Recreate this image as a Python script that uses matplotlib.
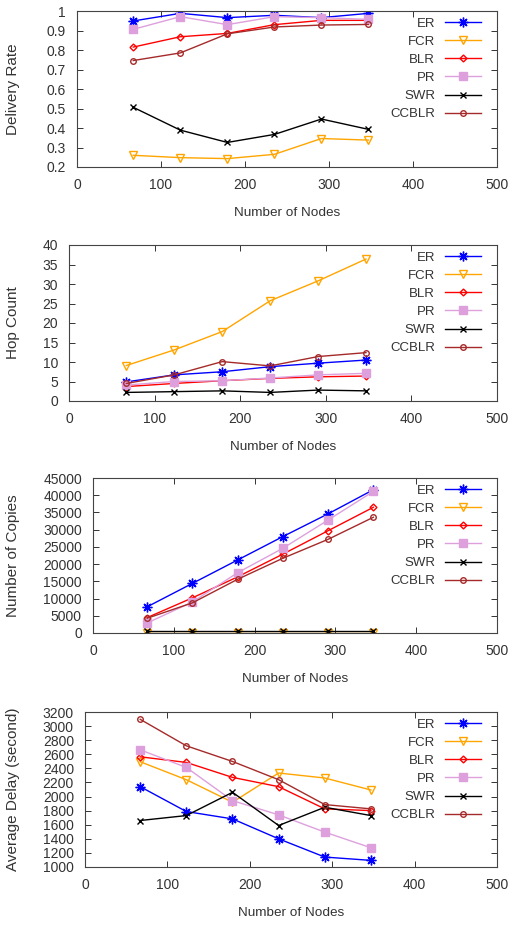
import matplotlib
matplotlib.use("Agg")
import matplotlib.pyplot as plt
from matplotlib.transforms import blended_transform_factory

plt.rcParams['font.family'] = ['Liberation Sans', 'DejaVu Sans']

# number of nodes on x axis
nodes = [67, 123, 179, 235, 291, 347]
names = ['ER', 'FCR', 'BLR', 'PR', 'SWR', 'CCBLR']

# delivery rate
dr_er = [0.949, 0.988, 0.966, 0.978, 0.966, 0.988]
dr_fcr = [0.260, 0.248, 0.243, 0.265, 0.346, 0.338]
dr_blr = [0.815, 0.868, 0.885, 0.930, 0.952, 0.952]
dr_pr = [0.906, 0.971, 0.930, 0.971, 0.966, 0.957]
dr_swr = [0.506, 0.389, 0.326, 0.367, 0.446, 0.393]
dr_ccblr = [0.746, 0.785, 0.883, 0.918, 0.928, 0.931]

# hop count
hc_er = [4.9, 6.7, 7.5, 8.8, 9.7, 10.5]
hc_fcr = [9.1, 13.1, 17.8, 25.7, 30.8, 36.4]
hc_blr = [3.7, 4.5, 5.2, 5.8, 6.2, 6.4]
hc_pr = [4.1, 5.0, 5.2, 5.9, 6.7, 7.1]
hc_swr = [2.2, 2.4, 2.6, 2.2, 2.8, 2.6]
hc_ccblr = [4.5, 6.7, 10.1, 9.0, 11.4, 12.4]

# number of copies
nc_er = [7600, 14400, 21200, 28000, 34600, 41600]
nc_fcr = [100, 100, 100, 100, 100, 100]
nc_blr = [4470, 10200, 16300, 22900, 29700, 36500]
nc_pr = [2900, 9000, 17500, 24600, 32800, 41100]
nc_swr = [450, 450, 450, 450, 450, 450]
nc_ccblr = [4280, 8750, 15600, 21700, 27200, 33600]

# average delay
ad_er = [2140, 1787, 1683, 1400, 1141, 1094]
ad_fcr = [2494, 2239, 1919, 2334, 2263, 2093]
ad_blr = [2564, 2484, 2272, 2140, 1825, 1801]
ad_pr = [2663, 2413, 1942, 1740, 1495, 1273]
ad_swr = [1660, 1730, 2060, 1589, 1848, 1730]
ad_ccblr = [3096, 2720, 2498, 2239, 1886, 1825]

colors = ['#0000ff', '#ffa500', '#ff0000', '#dda0dd', '#000000', '#a52a2a']
markers = [(8, 2, 0), 'v', 'D', 's', 'x', 'o']
filled = [True, False, False, True, True, False]
msizes = [7, 6, 3.5, 6, 5, 4]

W, H = 516, 925
fig = plt.figure(figsize=(W / 100, H / 100), dpi=100)


def panel(left, top, bottom, series, ylabel, ylim, yticks, ytl):
    ax = fig.add_axes([left / W, (H - bottom) / H, (497 - left) / W, (bottom - top) / H])
    for i, ys in enumerate(series):
        ax.plot(nodes, ys, color=colors[i], lw=1.0, marker=markers[i],
                markersize=msizes[i], markeredgewidth=1.0,
                markerfacecolor=colors[i] if filled[i] else 'none',
                label=names[i])
    ax.set_xlim(0, 500)
    ax.set_ylim(*ylim)
    ax.set_xticks([0, 100, 200, 300, 400, 500])
    ax.set_yticks(yticks)
    ax.set_yticklabels(ytl)
    ax.tick_params(direction='in', top=True, right=True, labelsize=10,
                   colors='#333333', length=4, width=0.7, pad=8)
    for s in ax.spines.values():
        s.set_linewidth(0.8)
        s.set_color('#444444')
    ax.set_xlabel('Number of Nodes', fontsize=9.7, color='#333333', labelpad=11)
    ax.set_ylabel(ylabel, fontsize=11, color='#333333')
    ax.yaxis.set_label_coords(20 / W, 0.5,
                              transform=blended_transform_factory(fig.transFigure, ax.transAxes))
    ax.legend(loc='upper right', frameon=False, markerfirst=False, fontsize=9.5,
              handlelength=2.7, labelspacing=0.45, borderaxespad=0.0,
              bbox_to_anchor=(1 - 11 / (497 - left), 1.0 - 1 / (bottom - top)),
              handletextpad=0.75)
    for t in ax.get_legend().get_texts():
        t.set_color('#333333')
    return ax


panel(77, 11, 167, [dr_er, dr_fcr, dr_blr, dr_pr, dr_swr, dr_ccblr], 'Delivery Rate',
      (0.2, 1.0), [0.2, 0.3, 0.4, 0.5, 0.6, 0.7, 0.8, 0.9, 1.0],
      ['0.2', '0.3', '0.4', '0.5', '0.6', '0.7', '0.8', '0.9', '1'])
panel(69, 245, 401, [hc_er, hc_fcr, hc_blr, hc_pr, hc_swr, hc_ccblr], 'Hop Count',
      (0, 40), list(range(0, 41, 5)), [str(v) for v in range(0, 41, 5)])
panel(93, 478, 633, [nc_er, nc_fcr, nc_blr, nc_pr, nc_swr, nc_ccblr], 'Number of Copies',
      (0, 45000), list(range(0, 45001, 5000)), [str(v) for v in range(0, 45001, 5000)])
panel(85, 712, 867, [ad_er, ad_fcr, ad_blr, ad_pr, ad_swr, ad_ccblr], 'Average Delay (second)',
      (1000, 3200), list(range(1000, 3201, 200)), [str(v) for v in range(1000, 3201, 200)])

fig.savefig('out.png', dpi=100)
